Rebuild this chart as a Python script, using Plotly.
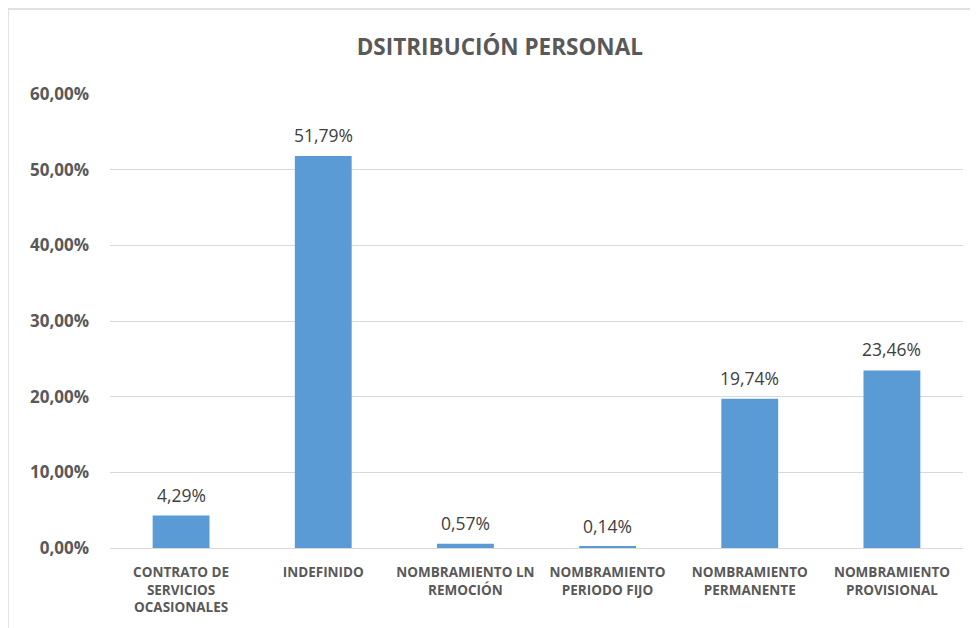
import plotly.graph_objects as go

categorias = [
    "CONTRATO DE<br>SERVICIOS<br>OCASIONALES",
    "INDEFINIDO",
    "NOMBRAMIENTO LN<br>REMOCIÓN",
    "NOMBRAMIENTO<br>PERIODO FIJO",
    "NOMBRAMIENTO<br>PERMANENTE",
    "NOMBRAMIENTO<br>PROVISIONAL",
]
porcentajes = [0.0429, 0.5179, 0.0057, 0.0014, 0.1974, 0.2346]
ticks_y = [0, 0.1, 0.2, 0.3, 0.4, 0.5, 0.6]

fuente = "Open Sans, Liberation Sans, sans-serif"

fig = go.Figure()
fig.add_trace(go.Bar(
    x=categorias,
    y=porcentajes,
    width=0.4,
    marker=dict(color="#5b9bd5", line=dict(width=0)),
    cliponaxis=False,
))

# etiquetas de datos encima de cada barra
for cat, val in zip(categorias, porcentajes):
    fig.add_annotation(
        x=cat, y=val, text=f"{val * 100:.2f}%".replace(".", ","),
        showarrow=False, yanchor="bottom", yshift=7,
        font=dict(family=fuente, size=17.5, color="#404040"),
    )

# marco exterior del grafico
fig.add_shape(type="rect", xref="paper", yref="paper",
              x0=-0.1196, x1=1.05, y0=-0.25, y1=1.187,
              line=dict(color="#d9d9d9", width=1.5), fillcolor="rgba(0,0,0,0)")

fig.update_layout(
    width=970, height=620,
    margin=dict(l=102, r=15, t=86, b=80),
    paper_bgcolor="white", plot_bgcolor="white",
    separators=",.",
    showlegend=False,
    title=dict(text="<b>DSITRIBUCIÓN PERSONAL</b>", x=0.507, xanchor="center",
               y=0.937, yanchor="middle",
               font=dict(family=fuente, size=22.5, color="#595959")),
    xaxis=dict(
        showgrid=False, showline=True, linecolor="#d9d9d9", linewidth=1,
        ticks="", tickfont=dict(family=fuente, size=13.5, color="#595959", weight="bold"),
        ticklabelstandoff=12,
    ),
    yaxis=dict(
        range=[0, 0.6], tickvals=ticks_y, tickformat=".2%",
        showgrid=True, gridcolor="#d9d9d9", gridwidth=1,
        zeroline=True, zerolinecolor="#d9d9d9", zerolinewidth=1,
        showline=False, ticks="",
        tickfont=dict(family=fuente, size=17, color="#595959", weight="bold"),
        ticklabelstandoff=20,
    ),
    font=dict(family=fuente),
)

fig.write_html("out.html")
